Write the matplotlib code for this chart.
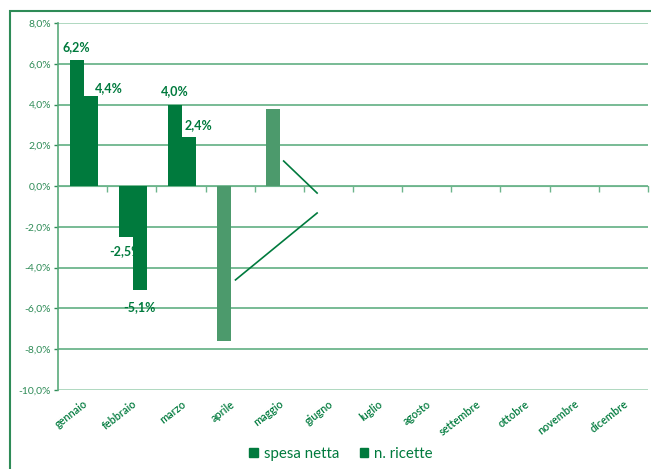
import matplotlib
matplotlib.use("Agg")
import matplotlib.pyplot as plt
import numpy as np
from matplotlib.patches import Rectangle

months = ["gennaio", "febbraio", "marzo", "aprile", "maggio", "giugno", "luglio",
          "agosto", "settembre", "ottobre", "novembre", "dicembre"]
spesa_netta = [6.2, -2.5, 4.0, -7.6, 3.8, np.nan, np.nan, np.nan, np.nan, np.nan, np.nan, np.nan]
n_ricette = [4.4, -5.1, 2.4, np.nan, np.nan, np.nan, np.nan, np.nan, np.nan, np.nan, np.nan, np.nan]
spesa_labels = ["6,2%", "-2,5%", "4,0%", None, None]
ricette_labels = ["4,4%", "-5,1%", "2,4%"]
y_ticks = [8, 6, 4, 2, 0, -2, -4, -6, -8, -10]
y_tick_labels = ["8,0%", "6,0%", "4,0%", "2,0%", "0,0%", "-2,0%", "-4,0%", "-6,0%", "-8,0%", "-10,0%"]
# stray connector lines present in the original (data coords)
line1_x, line1_y = [4.09, 4.77], [1.23, -0.34]
line2_x, line2_y = [3.11, 4.77], [-4.6, -1.32]

DARK = "#007a3d"
LIGHT = "#4c9a6c"
TXT = "#2e8b57"
GRID = "#6db58c"

plt.rcParams['font.family'] = ['Lato', 'DejaVu Sans']

fig = plt.figure(figsize=(6.51, 4.69), dpi=100)
fig.patches.append(Rectangle((10/651, -0.1), 1.2, 1 - 11/469 + 0.1, transform=fig.transFigure,
                             fill=False, edgecolor="#2e8b57", linewidth=1.5))
ax = fig.add_axes([58/651, (469-390)/469, 590/651, 367/469])

x = np.arange(len(months))
w = 0.285
spesa_colors = [DARK, DARK, DARK, LIGHT, LIGHT] + [DARK]*7
ax.bar(x - w/2 + 0.02, spesa_netta, width=w, color=spesa_colors, zorder=3)
ax.bar(x + w/2 + 0.02, n_ricette, width=w, color=DARK, zorder=3)

ax.plot(line1_x, line1_y, color=DARK, lw=1.2, zorder=4)
ax.plot(line2_x, line2_y, color=DARK, lw=1.2, zorder=4)

# data labels (offsets in points)
offs_s = [(0, 9), (0, -10), (0, 10)]
offs_r = [(13, 6), (0, -12), (7, 9)]
for i, lab in enumerate(spesa_labels):
    if lab is None:
        continue
    v = spesa_netta[i]
    ax.annotate(lab, (x[i] - w/2 + 0.02, v), xytext=offs_s[i], textcoords="offset points",
                ha="center", va="center", fontsize=9, fontweight="bold", color=DARK, zorder=5)
for i, lab in enumerate(ricette_labels):
    v = n_ricette[i]
    ax.annotate(lab, (x[i] + w/2 + 0.02, v), xytext=offs_r[i], textcoords="offset points",
                ha="center", va="center", fontsize=9, fontweight="bold", color=DARK, zorder=5)

ax.set_xlim(-0.5, len(months) - 0.5)
ax.set_ylim(-10, 8)
ax.set_yticks(y_ticks)
ax.set_yticklabels(y_tick_labels)
ax.tick_params(axis="y", colors=TXT, labelsize=7.5, length=3, width=1, pad=2, labelcolor=TXT)
for t in y_ticks:
    ax.axhline(t, color=GRID if t not in (8, -10) else "#a9d6bb", lw=1.3, zorder=1)

# category axis at zero, labels at bottom
ax.spines["bottom"].set_position(("data", 0))
ax.spines["bottom"].set_color(GRID)
ax.set_xticks(np.arange(0.5, len(months), 1))
ax.set_xticklabels([])
ax.tick_params(axis="x", colors=GRID, length=4, width=1, direction="out")
sec = ax.secondary_xaxis(0.0)
sec.set_xticks(x)
sec.set_xticklabels(months, rotation=38, ha="right", rotation_mode="anchor", fontweight="semibold")
sec.tick_params(length=0, labelsize=7.8, labelcolor=DARK, pad=6)
sec.spines["bottom"].set_visible(False)

for s in ["top", "right"]:
    ax.spines[s].set_visible(False)
ax.spines["left"].set_color("#5aaa7c")
ax.spines["left"].set_linewidth(1.2)

handles = [Rectangle((0, 0), 1, 1, color=DARK), Rectangle((0, 0), 1, 1, color=DARK)]
fig.legend(handles, ["spesa netta", "n. ricette"], loc="center", bbox_to_anchor=(341/651, 1 - 454/469),
           ncol=2, frameon=False, fontsize=10.8, labelcolor=DARK, handlelength=0.55, handleheight=0.55,
           handletextpad=0.4, columnspacing=1.4)

fig.savefig("out.png", dpi=100)
